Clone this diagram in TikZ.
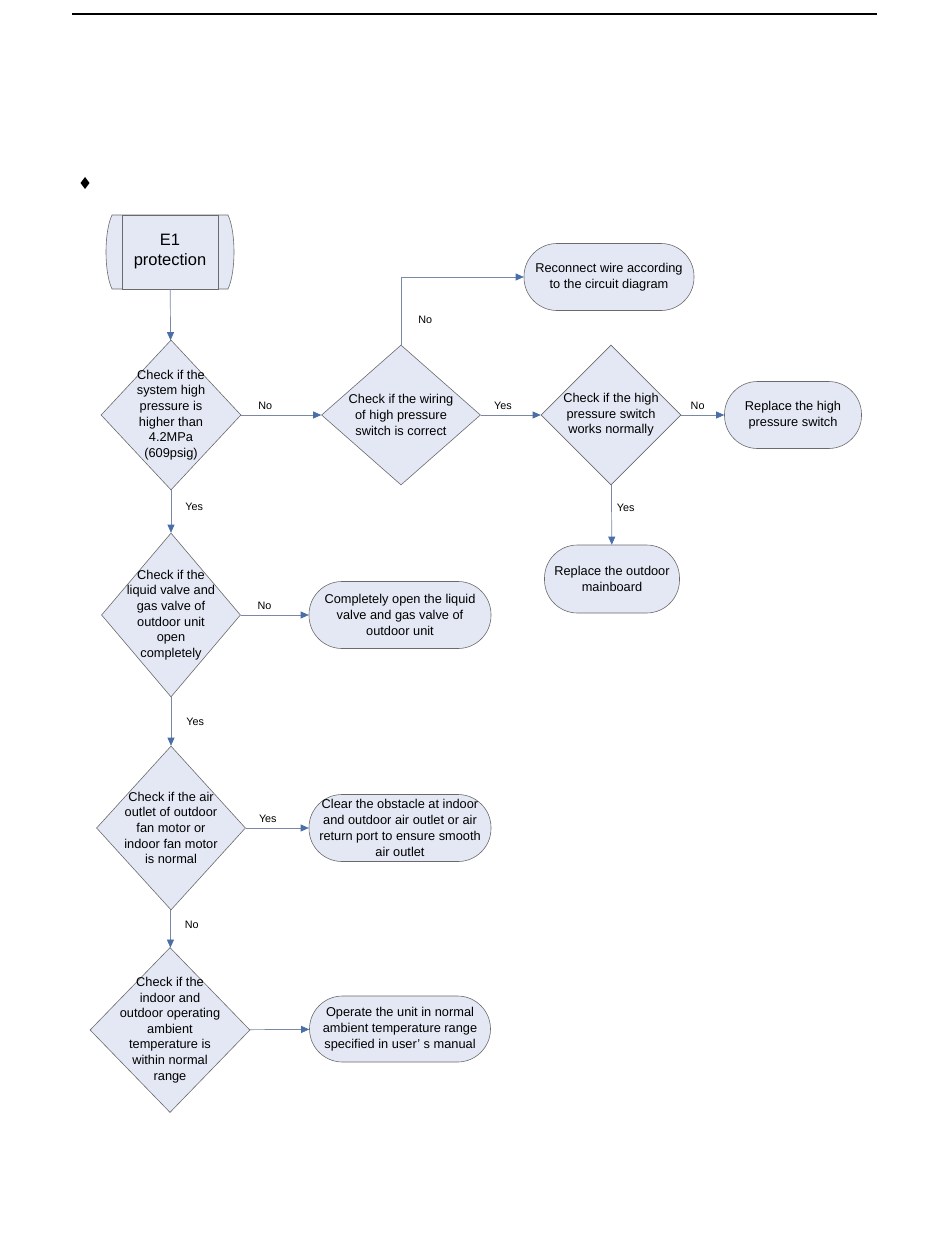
\documentclass[tikz,border=0pt]{standalone}
\usepackage{fontspec}
\setmainfont{Liberation Sans}
\usetikzlibrary{shapes.geometric,arrows.meta}
\definecolor{boxfill}{HTML}{E4E8F4}
\definecolor{boxline}{HTML}{6A6A6A}
\definecolor{arrline}{HTML}{7A88A6}
\definecolor{arrtip}{HTML}{4A6FA8}
\tikzset{
	check/.style={diamond,draw=boxline,fill=boxfill,line width=0.6pt,inner sep=-20pt,align=center,font=\fontsize{12.8}{15.6}\selectfont},
	fix/.style={rectangle,rounded corners=33pt,draw=boxline,fill=boxfill,line width=0.6pt,align=center,font=\fontsize{12.8}{16}\selectfont},
	arr/.style={draw=arrline,line width=0.7pt,-{Triangle[length=8pt,width=7pt,color=arrtip]}},
	lbl/.style={font=\fontsize{10.8}{12}\selectfont,inner sep=1pt}
}
\begin{document}
\begin{tikzpicture}[x=1pt,y=-1pt]
	\useasboundingbox (0,0) rectangle (950,1260);
	\draw[line width=1.2pt] (72,14) -- (877,14);
	\fill (85,177) -- (89.5,183) -- (85,189) -- (80.5,183) -- cycle;

	% start
	\filldraw[draw=boxline,fill=boxfill,line width=0.6pt] (112,215) -- (228,215) .. controls (236,232) and (236,272) .. (228,289) -- (112,289) .. controls (104,272) and (104,232) .. (112,215) -- cycle;
	\node [draw=boxline,fill=boxfill,line width=0.6pt,minimum width=96pt,minimum height=74pt,inner sep=0pt,align=center,font=\fontsize{16.5}{20}\selectfont] (e1) at (170,252) {E1\\protection};

	% checks
	\node [check,minimum width=140pt,minimum height=150pt] (d1) at (171,415) {Check if the\\system high\\pressure is\\higher than\\4.2MPa\\(609psig)};
	\node [check,minimum width=159pt,minimum height=140pt] (d2) at (401,415) {Check if the wiring\\of high pressure\\switch is correct};
	\node [check,minimum width=140pt,minimum height=140pt] (d3) at (611,415) {Check if the high\\pressure switch\\works normally};
	\node [check,minimum width=139pt,minimum height=164pt] (d4) at (171,615) {Check if the\\liquid valve and\\gas valve of\\outdoor unit\\open\\completely};
	\node [check,minimum width=149pt,minimum height=164pt] (d5) at (171,828) {Check if the air\\outlet of outdoor\\fan motor or\\indoor fan motor\\is normal};
	\node [check,minimum width=160pt,minimum height=165pt] (d6) at (170,1030) {Check if the\\indoor and\\outdoor operating\\ambient\\temperature is\\within normal\\range};

	% actions
	\node [fix,minimum width=170pt,minimum height=67pt] (rc) at (609,277) {Reconnect wire according\\to the circuit diagram};
	\node [fix,minimum width=137pt,minimum height=67pt] (rs) at (793,415) {Replace the high\\pressure switch};
	\node [fix,minimum width=135pt,minimum height=68pt] (rm) at (612,579) {Replace the outdoor\\mainboard};
	\node [fix,minimum width=182pt,minimum height=67pt] (cb) at (400,615) {Completely open the liquid\\valve and gas valve of\\outdoor unit};
	\node [fix,minimum width=182pt,minimum height=67pt] (cl) at (400,828) {Clear the obstacle at indoor\\and outdoor air outlet or air\\return port to ensure smooth\\air outlet};
	\node [fix,minimum width=181pt,minimum height=66pt] (op) at (400,1029) {Operate the unit in normal\\ambient temperature range\\specified in user’ s manual};

	\draw[arr] (e1) -- (d1);
	\draw[arr] (d1) -- node[lbl,above=4pt,pos=.3] {No} (d2);
	\draw[arr] (d2.north) |- node[lbl,right=16pt,pos=.18] {No} (rc.west);
	\draw[arr] (d2) -- node[lbl,above=4pt,pos=.37] {Yes} (d3);
	\draw[arr] (d3) -- node[lbl,above=4pt,pos=.38] {No} (rs);
	\draw[arr] (d3) -- node[lbl,right=4pt,pos=.38] {Yes} (rm);
	\draw[arr] (d1) -- node[lbl,right=13pt,pos=.4] {Yes} (d4);
	\draw[arr] (d4) -- node[lbl,above=4pt,pos=.35] {No} (cb);
	\draw[arr] (d4) -- node[lbl,right=14pt,pos=.5] {Yes} (d5);
	\draw[arr] (d5) -- node[lbl,above=4pt,pos=.35] {Yes} (cl);
	\draw[arr] (d5) -- node[lbl,right=13pt,pos=.4] {No} (d6);
	\draw[arr] (d6) -- (op);
\end{tikzpicture}
\end{document}
